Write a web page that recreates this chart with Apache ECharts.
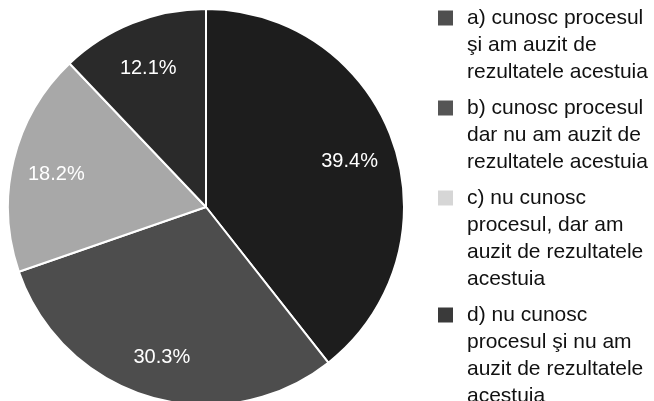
<!DOCTYPE html>
<html><head><meta charset="utf-8">
<script src="https://cdn.jsdelivr.net/npm/echarts@6/dist/echarts.min.js"></script>
<style>html,body{margin:0;padding:0;background:#fff}#c{width:654px;height:401px}</style>
</head><body><div id="c"></div>
<script>
const categories = [
  'a) cunosc procesul şi am auzit de rezultatele acestuia',
  'b) cunosc procesul dar nu am auzit de rezultatele acestuia',
  'c) nu cunosc procesul, dar am auzit de rezultatele acestuia',
  'd) nu cunosc procesul şi nu am auzit de rezultatele acestuia'
];
const values = [39.4, 30.3, 18.2, 12.1];
const sliceColors = ['#1d1d1d', '#4d4d4d', '#a8a8a8', '#2a2a2a'];
const legendIconColors = ['#4f4f4f', '#555555', '#d6d6d6', '#3a3a3a'];
const legendLineCounts = [3, 3, 4, 4];

const FONT = "'Liberation Sans', Arial, sans-serif";
const LH = 27, GAP = 9, ICON = 15, ICON_OFF = 6;
let legendTop = 4.5;
const legends = categories.map((name, i) => {
  const n = legendLineCounts[i];
  const h = n * LH;
  // square at the top of a tall, otherwise empty icon box, so it sits beside the first line
  const iconPath = 'path://M0,0 M0,' + h + ' M0,' + ICON_OFF + ' L' + ICON + ',' + ICON_OFF +
    ' L' + ICON + ',' + (ICON_OFF + ICON) + ' L0,' + (ICON_OFF + ICON) + ' Z';
  const lg = {
    orient: 'vertical', left: 438, top: legendTop, padding: 0,
    itemWidth: ICON, itemHeight: h, selectedMode: false,
    itemStyle: { borderWidth: 0 },
    data: [{ name: name, icon: iconPath, itemStyle: { color: legendIconColors[i], borderWidth: 0 } }],
    textStyle: {
      fontFamily: FONT, fontSize: 21, lineHeight: LH, color: '#111',
      width: 186, overflow: 'break', padding: [0, 0, 0, 9]
    }
  };
  legendTop += h + GAP;
  return lg;
});

const chart = echarts.init(document.getElementById('c'), null, { renderer: 'canvas' });
chart.setOption({
  animation: false,
  backgroundColor: '#fff',
  legend: legends,
  series: [
    {
      type: 'pie', center: [206, 207], radius: 198, startAngle: 90, clockwise: true,
      silent: true,
      itemStyle: { borderColor: '#fff', borderWidth: 2 },
      label: { show: false }, labelLine: { show: false },
      emphasis: { disabled: true },
      data: categories.map((name, i) => ({ name, value: values[i], itemStyle: { color: sliceColors[i] } }))
    },
    {
      type: 'pie', center: [205, 211], radius: [102, 198], startAngle: 90, clockwise: true,
      silent: true, z: 3,
      itemStyle: { color: 'rgba(0,0,0,0)', borderWidth: 0 },
      label: { show: true, position: 'inside', formatter: '{c}%', color: '#fff', fontSize: 20, fontFamily: FONT },
      labelLine: { show: false },
      emphasis: { disabled: true },
      data: categories.map((name, i) => ({ name, value: values[i] }))
    }
  ]
});
</script>
</body></html>
